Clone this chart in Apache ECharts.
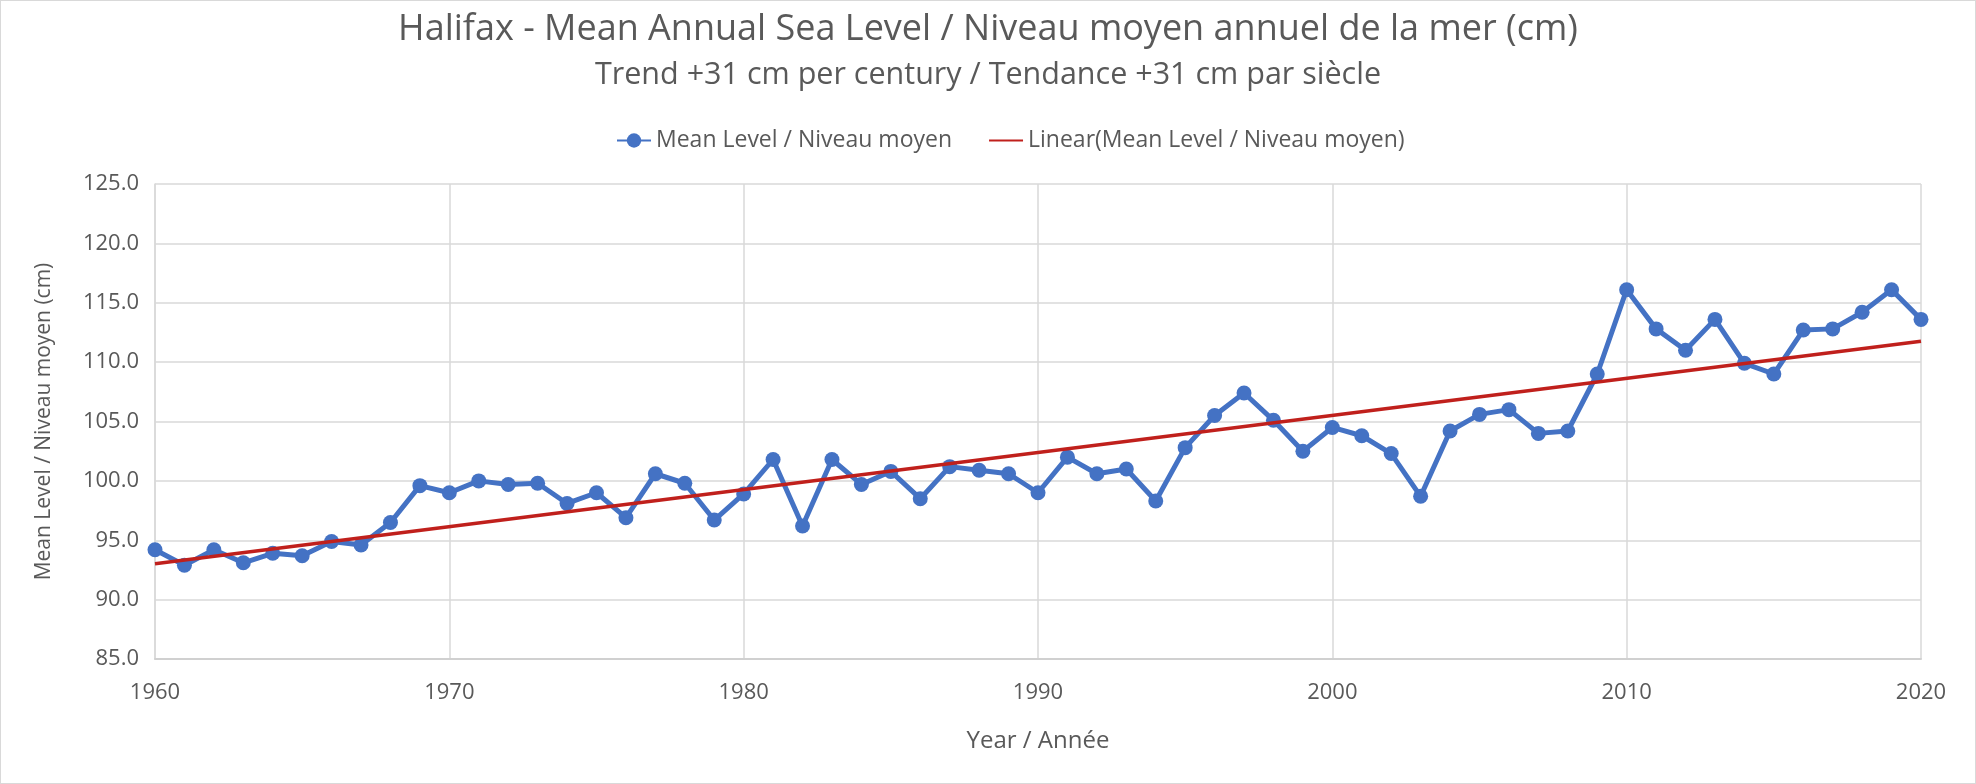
<!DOCTYPE html>
<html>
<head>
<meta charset="utf-8">
<script src="https://cdn.jsdelivr.net/npm/echarts@6/dist/echarts.min.js"></script>
<style>
html,body{margin:0;padding:0;background:#fff;}
#chart{width:1976px;height:784px;box-sizing:border-box;border:1px solid #d9d9d9;}
</style>
</head>
<body>
<div id="chart"></div>
<script>
const years = [1960,1961,1962,1963,1964,1965,1966,1967,1968,1969,
  1970,1971,1972,1973,1974,1975,1976,1977,1978,1979,
  1980,1981,1982,1983,1984,1985,1986,1987,1988,1989,
  1990,1991,1992,1993,1994,1995,1996,1997,1998,1999,
  2000,2001,2002,2003,2004,2005,2006,2007,2008,2009,
  2010,2011,2012,2013,2014,2015,2016,2017,2018,2019,2020];
const meanLevel = [94.2,92.9,94.2,93.1,93.9,93.7,94.9,94.6,96.5,99.6,
  99.0,100.0,99.7,99.8,98.1,99.0,96.9,100.6,99.8,96.7,
  98.9,101.8,96.2,101.8,99.7,100.8,98.5,101.2,100.9,100.6,
  99.0,102.0,100.6,101.0,98.3,102.8,105.5,107.4,105.1,102.5,
  104.5,103.8,102.3,98.7,104.2,105.6,106.0,104.0,104.2,109.0,
  116.1,112.8,111.0,113.6,109.9,109.0,112.7,112.8,114.2,116.1,113.6];
const yTicks = {min:85, max:125, step:5};
const xTicks = {min:1960, max:2020, step:10};
const titleText = 'Halifax - Mean Annual Sea Level / Niveau moyen annuel de la mer (cm)';
const subtitleText = 'Trend +31 cm per century / Tendance +31 cm par siècle';
const seriesName = 'Mean Level / Niveau moyen';
const trendName = 'Linear(Mean Level / Niveau moyen)';
const yAxisName = 'Mean Level / Niveau moyen (cm)';
const xAxisName = 'Year / Année';

// least-squares linear trend (Excel "Linear" trendline)
const n = years.length;
let sx=0, sy=0, sxx=0, sxy=0;
for (let i=0;i<n;i++){ sx+=years[i]; sy+=meanLevel[i]; sxx+=years[i]*years[i]; sxy+=years[i]*meanLevel[i]; }
const slope = (n*sxy - sx*sy)/(n*sxx - sx*sx);
const intercept = (sy - slope*sx)/n;
const trendData = [[years[0], intercept+slope*years[0]], [years[n-1], intercept+slope*years[n-1]]];

const FONT = 'Open Sans';
const TXT = '#595959';
const BLUE = '#4472C4';
const RED = '#C0201C';
const chart = echarts.init(document.getElementById('chart'), null, {renderer:'canvas'});
chart.setOption({
  animation:false,
  backgroundColor:'#fff',
  textStyle:{fontFamily:FONT},
  title:[
    {text:titleText, left:'center', top:6, textStyle:{fontFamily:FONT, fontSize:36, fontWeight:'normal', color:TXT}},
    {text:subtitleText, left:'center', top:54, textStyle:{fontFamily:FONT, fontSize:30.5, fontWeight:'normal', color:TXT}}
  ],
  legend:{
    top:123, left:610, itemGap:36, itemWidth:34, itemHeight:18,
    textStyle:{fontFamily:FONT, fontSize:23, color:TXT},
    data:[{name:seriesName}, {name:trendName, itemStyle:{opacity:0}}]
  },
  grid:{left:154, right:54, top:183, bottom:124, containLabel:false},
  xAxis:{
    type:'value', min:xTicks.min, max:xTicks.max, interval:xTicks.step,
    name:xAxisName, nameLocation:'middle', nameGap:70,
    nameTextStyle:{fontFamily:FONT, fontSize:24, color:TXT},
    axisLine:{show:true, lineStyle:{color:'#d0d0d0', width:2}},
    axisTick:{show:false},
    axisLabel:{fontFamily:FONT, fontSize:22, color:TXT, margin:23, formatter:v=>String(v)},
    splitLine:{show:true, lineStyle:{color:'#d9d9d9', width:1.5}}
  },
  yAxis:{
    type:'value', min:yTicks.min, max:yTicks.max, interval:yTicks.step,
    name:yAxisName, nameLocation:'middle', nameGap:100, nameRotate:90,
    nameTextStyle:{fontFamily:FONT, fontSize:21, color:TXT},
    axisLine:{show:true, lineStyle:{color:'#d9d9d9', width:1.5}},
    axisTick:{show:false},
    axisLabel:{fontFamily:FONT, fontSize:22, color:TXT, margin:16, formatter:v=>v.toFixed(1)},
    splitLine:{show:true, lineStyle:{color:'#d9d9d9', width:1.5}}
  },
  series:[
    {name:seriesName, type:'line', data:years.map((y,i)=>[y, meanLevel[i]]),
     symbol:'circle', symbolSize:15,
     lineStyle:{color:BLUE, width:5}, itemStyle:{color:BLUE}, z:2},
    {name:trendName, type:'line', data:trendData, symbol:'none',
     lineStyle:{color:RED, width:3.5}, itemStyle:{color:RED}, z:3}
  ]
});
</script>
</body>
</html>
